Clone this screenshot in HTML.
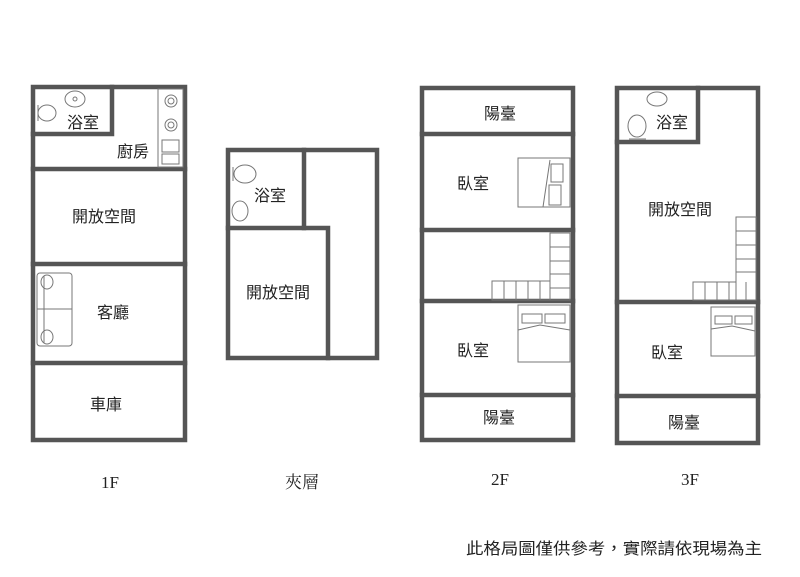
<!DOCTYPE html>
<html><head><meta charset="utf-8"><style>
html,body{margin:0;padding:0;background:#fff;}
svg{display:block;}
.w{stroke:#555;stroke-width:4.5;fill:none;stroke-linecap:square;}
.f{stroke:#777;stroke-width:1;fill:none;}
text{font-family:"Liberation Sans","Noto Sans CJK TC",sans-serif;font-size:16px;fill:#222;text-anchor:middle;}
.s{font-family:"Liberation Serif","Noto Serif CJK SC",serif;font-size:17px;}
</style></head><body>
<svg width="800" height="577" viewBox="0 0 800 577">
<!-- 1F -->
<rect class="w" x="33" y="87" width="152" height="353"/>
<polyline class="w" points="33,134 112,134 112,87"/>
<line class="w" x1="33" y1="169" x2="185" y2="169"/>
<line class="w" x1="33" y1="264" x2="185" y2="264"/>
<line class="w" x1="33" y1="363" x2="185" y2="363"/>
<!-- bath fixtures -->
<ellipse class="f" cx="75" cy="99" rx="10" ry="8"/><circle class="f" cx="75" cy="99" r="2"/>
<ellipse class="f" cx="47" cy="113" rx="9" ry="8"/><line class="f" x1="38" y1="105" x2="38" y2="121"/>
<!-- stove/sink -->
<rect class="f" x="158" y="89" width="25" height="78"/>
<circle class="f" cx="171" cy="101" r="6"/><circle class="f" cx="171" cy="101" r="3"/>
<circle class="f" cx="171" cy="125" r="6"/><circle class="f" cx="171" cy="125" r="3"/>
<rect class="f" x="162" y="140" width="17" height="12"/><rect class="f" x="162" y="154" width="17" height="10"/>
<!-- sofa -->
<rect class="f" x="37" y="273" width="35" height="73" rx="3"/>
<line class="f" x1="44" y1="276" x2="44" y2="343"/>
<line class="f" x1="37" y1="309" x2="72" y2="309"/>
<ellipse class="f" cx="47" cy="282" rx="6" ry="7"/><ellipse class="f" cx="47" cy="337" rx="6" ry="7"/>
<text x="83" y="128">浴室</text>
<text x="133" y="157">廚房</text>
<text x="104" y="222">開放空間</text>
<text x="113" y="318">客廳</text>
<text x="106" y="410">車庫</text>
<text class="s" x="110" y="488">1F</text>

<!-- mezzanine -->
<rect class="w" x="228" y="150" width="149" height="208"/>
<polyline class="w" points="304,150 304,228 228,228"/>
<polyline class="w" points="304,228 328,228 328,358"/>
<ellipse class="f" cx="245" cy="174" rx="11" ry="9"/><line class="f" x1="233" y1="167" x2="233" y2="181"/>
<ellipse class="f" cx="240" cy="211" rx="8" ry="10"/>
<text x="270" y="201">浴室</text>
<text x="278" y="298">開放空間</text>
<text class="s" x="302" y="488">夾層</text>

<!-- 2F -->
<rect class="w" x="422" y="88" width="151" height="352"/>
<line class="w" x1="422" y1="134" x2="573" y2="134"/>
<line class="w" x1="422" y1="230" x2="573" y2="230"/>
<line class="w" x1="422" y1="301" x2="573" y2="301"/>
<line class="w" x1="422" y1="395" x2="573" y2="395"/>
<rect class="f" x="518" y="158" width="52" height="49"/>
<polyline class="f" points="550,160 543,207"/><rect class="f" x="551" y="164" width="12" height="18"/><rect class="f" x="549" y="185" width="12" height="20"/>
<rect class="f" x="550" y="233" width="20" height="67"/>
<line class="f" x1="550" y1="247" x2="570" y2="247"/><line class="f" x1="550" y1="261" x2="570" y2="261"/><line class="f" x1="550" y1="274" x2="570" y2="274"/><line class="f" x1="550" y1="288" x2="570" y2="288"/>
<rect class="f" x="492" y="281" width="58" height="19"/>
<line class="f" x1="504" y1="281" x2="504" y2="300"/><line class="f" x1="516" y1="281" x2="516" y2="300"/><line class="f" x1="528" y1="281" x2="528" y2="300"/><line class="f" x1="540" y1="281" x2="540" y2="300"/>
<rect class="f" x="518" y="305" width="52" height="57"/>
<rect class="f" x="522" y="314" width="20" height="9"/><rect class="f" x="545" y="314" width="20" height="9"/>
<polyline class="f" points="518,330 540,325 570,330"/>
<text x="500" y="119">陽臺</text>
<text x="473" y="189">臥室</text>
<text x="473" y="356">臥室</text>
<text x="499" y="423">陽臺</text>
<text class="s" x="500" y="485">2F</text>

<!-- 3F -->
<rect class="w" x="617" y="88" width="141" height="355"/>
<polyline class="w" points="617,142 698,142 698,88"/>
<line class="w" x1="617" y1="302" x2="758" y2="302"/>
<line class="w" x1="617" y1="396" x2="758" y2="396"/>
<ellipse class="f" cx="657" cy="99" rx="10" ry="7"/>
<ellipse class="f" cx="637" cy="126" rx="9" ry="11"/><line class="f" x1="629" y1="139" x2="646" y2="139"/>
<rect class="f" x="736" y="217" width="20" height="83"/>
<line class="f" x1="736" y1="231" x2="756" y2="231"/><line class="f" x1="736" y1="245" x2="756" y2="245"/><line class="f" x1="736" y1="259" x2="756" y2="259"/><line class="f" x1="736" y1="272" x2="756" y2="272"/>
<rect class="f" x="693" y="282" width="43" height="18"/>
<line class="f" x1="705" y1="282" x2="705" y2="300"/><line class="f" x1="717" y1="282" x2="717" y2="300"/><line class="f" x1="729" y1="282" x2="729" y2="300"/><line class="f" x1="746" y1="282" x2="746" y2="300"/>
<rect class="f" x="711" y="307" width="44" height="49"/>
<rect class="f" x="715" y="316" width="17" height="8"/><rect class="f" x="735" y="316" width="17" height="8"/>
<polyline class="f" points="711,329 732,326 755,331"/>
<text x="672" y="128">浴室</text>
<text x="680" y="215">開放空間</text>
<text x="667" y="358">臥室</text>
<text x="684" y="428">陽臺</text>
<text class="s" x="690" y="485">3F</text>

<text x="614" y="554" style="font-size:16px" textLength="296" lengthAdjust="spacingAndGlyphs">此格局圖僅供參考，實際請依現場為主</text>
</svg>
</body></html>
